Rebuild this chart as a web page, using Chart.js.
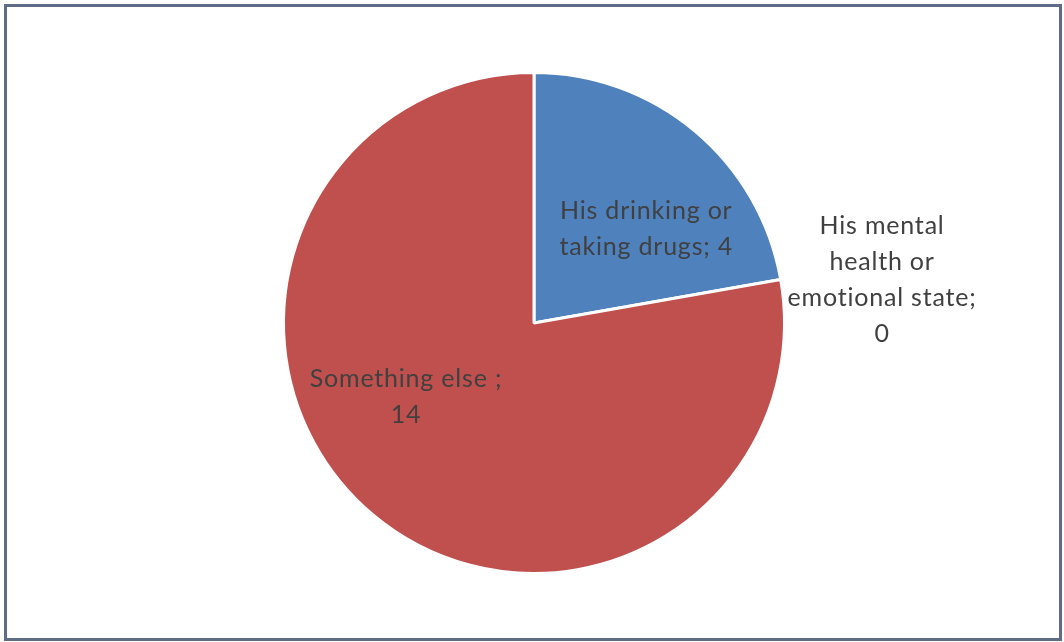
<!DOCTYPE html>
<html>
<head>
<meta charset="utf-8">
<script src="https://cdn.jsdelivr.net/npm/chart.js@4/dist/chart.umd.min.js"></script>
<style>
    html, body { margin: 0; padding: 0; background: #ffffff; }
    #wrap { position: relative; width: 1064px; height: 642px; }
    #frame {
        position: absolute; left: 4px; top: 4px; width: 1052px; height: 631px;
        border: 3px solid #5f6c86; pointer-events: none;
    }
    canvas { position: absolute; left: 0; top: 0; }
</style>
</head>
<body>
<div id="wrap">
    <canvas id="myPie" width="1064" height="642"></canvas>
    <div id="frame"></div>
</div>
<script>
// Réponses
const categories = ["His drinking or taking drugs", "His mental health or emotional state", "Something else "];
const counts = [4, 0, 14];
const sliceColors = ["#4f81bd", "#9bbb59", "#c0504d"];

// Lignes de chaque étiquette
const labelLines = [
    ["His drinking or", "taking drugs; " + counts[0]],
    ["His mental", "health or", "emotional state;", String(counts[1])],
    ["Something else ;", String(counts[2])]
];

// Position des étiquettes : [décalage d'angle en degrés, fraction du rayon]
const labelPlacement = [[10, 0.585], [3, 1.4], [20, 0.59]];

const pieLabels = {
    id: "pieLabels",
    afterDatasetsDraw(chart) {
        const ctx = chart.ctx;
        const arcs = chart.getDatasetMeta(0).data;
        ctx.save();
        ctx.font = "25px Lato";
        ctx.letterSpacing = "0.8px";
        ctx.fillStyle = "#404040";
        ctx.textAlign = "center";
        ctx.textBaseline = "middle";
        arcs.forEach((arc, i) => {
            const p = arc.getProps(["x", "y", "startAngle", "endAngle", "outerRadius"], true);
            const mid = (p.startAngle + p.endAngle) / 2 + labelPlacement[i][0] * Math.PI / 180;
            const r = p.outerRadius * labelPlacement[i][1];
            const cx = p.x + Math.cos(mid) * r;
            const cy = p.y + Math.sin(mid) * r;
            const lines = labelLines[i];
            const lh = 36;
            lines.forEach((txt, k) => {
                ctx.fillText(txt, cx, cy + (k - (lines.length - 1) / 2) * lh);
            });
        });
        ctx.restore();
    }
};

new Chart(document.getElementById("myPie"), {
    type: "pie",
    data: {
        labels: categories,
        datasets: [{
            data: counts,
            backgroundColor: sliceColors,
            borderColor: "#ffffff",
            borderWidth: 3
        }]
    },
    options: {
        responsive: false,
        animation: false,
        layout: { padding: { top: 71, bottom: 67, left: 4, right: 0 } },
        plugins: {
            legend: { display: false },
            tooltip: { enabled: false }
        }
    },
    plugins: [pieLabels]
});
</script>
</body>
</html>
